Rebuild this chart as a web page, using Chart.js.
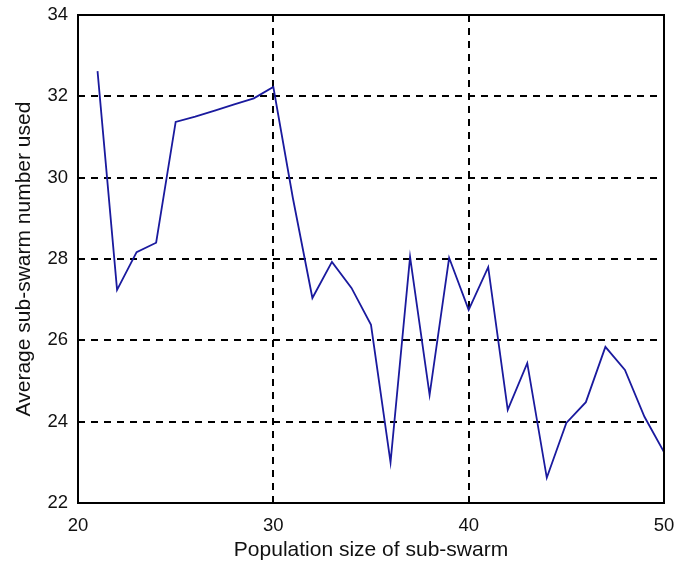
<!DOCTYPE html>
<html>
<head>
<meta charset="utf-8">
<script src="https://cdn.jsdelivr.net/npm/chart.js@4/dist/chart.umd.min.js"></script>
<style>
  html, body { margin: 0; padding: 0; background: #fff; }
  #wrap { width: 675px; height: 565px; }
</style>
</head>
<body>
<div id="wrap"><canvas id="c" width="675" height="565"></canvas></div>
<script>
// Werte
const popSize = [21, 22, 23, 24, 25, 26, 27, 28, 29, 30,
                 31, 32, 33, 34, 35, 36, 37, 38, 39, 40,
                 41, 42, 43, 44, 45, 46, 47, 48, 49, 50];
const avgSwarms = [32.62, 27.24, 28.17, 28.4, 31.37, 31.5, 31.65, 31.8, 31.95, 32.23,
                   29.5, 27.04, 27.93, 27.29, 26.38, 23.0, 28.05, 24.66, 28.03, 26.75,
                   27.8, 24.29, 25.44, 22.62, 23.97, 24.48, 25.84, 25.27, 24.12, 23.25];
const xTicks = [20, 30, 40, 50];
const yTicks = [22, 24, 26, 28, 30, 32, 34];

const FONT = "'Liberation Sans', Arial, sans-serif";

// Rahmen um die Plotfläche (oben/rechts wie MATLAB)
const boxPlugin = {
  id: "box",
  afterDraw(chart) {
    const { ctx, chartArea: a } = chart;
    ctx.save();
    ctx.strokeStyle = "#000";
    ctx.lineWidth = 2;
    ctx.strokeRect(a.left, a.top, a.right - a.left, a.bottom - a.top);
    ctx.restore();
  }
};

const gridColor = (edges) => (c) =>
  edges.includes(c.tick.value) ? "rgba(0,0,0,0)" : "#000";

new Chart(document.getElementById("c").getContext("2d"), {
  type: "line",
  data: {
    datasets: [{
      data: popSize.map((x, i) => ({ x, y: avgSwarms[i] })),
      borderColor: "#1a1a9e",
      borderWidth: 1.8,
      pointRadius: 0,
      tension: 0,
      fill: false
    }]
  },
  options: {
    responsive: false,
    animation: false,
    layout: { padding: { left: 0, top: 15, right: 11, bottom: 0 } },
    plugins: {
      legend: { display: false },
      tooltip: { enabled: false }
    },
    scales: {
      x: {
        type: "linear",
        min: 20,
        max: 50,
        afterBuildTicks: (s) => { s.ticks = xTicks.map(v => ({ value: v })); },
        afterFit: (s) => { s.height = 62; s.paddingLeft = 0; s.paddingRight = 0; },
        ticks: {
          color: "#111",
          font: { family: FONT, size: 18.5 },
          padding: 12,
          maxRotation: 0
        },
        grid: {
          color: gridColor([20, 50]),
          lineWidth: 2,
          drawTicks: false
        },
        border: { display: false, dash: [7, 6] },
        title: {
          display: true,
          text: "Population size of sub-swarm",
          color: "#111",
          font: { family: FONT, size: 21 },
          padding: { top: 0, bottom: 2 }
        }
      },
      y: {
        min: 22,
        max: 34,
        afterBuildTicks: (s) => { s.ticks = yTicks.map(v => ({ value: v })); },
        afterFit: (s) => { s.width = 78; s.paddingTop = 0; s.paddingBottom = 0; },
        ticks: {
          color: "#111",
          font: { family: FONT, size: 18.5 },
          padding: 10
        },
        grid: {
          color: gridColor([22, 34]),
          lineWidth: 2,
          drawTicks: false
        },
        border: { display: false, dash: [7, 6] },
        title: {
          display: true,
          text: "Average sub-swarm number used",
          color: "#111",
          font: { family: FONT, size: 21 },
          padding: { top: 12, bottom: 0 }
        }
      }
    }
  },
  plugins: [boxPlugin]
});
</script>
</body>
</html>
